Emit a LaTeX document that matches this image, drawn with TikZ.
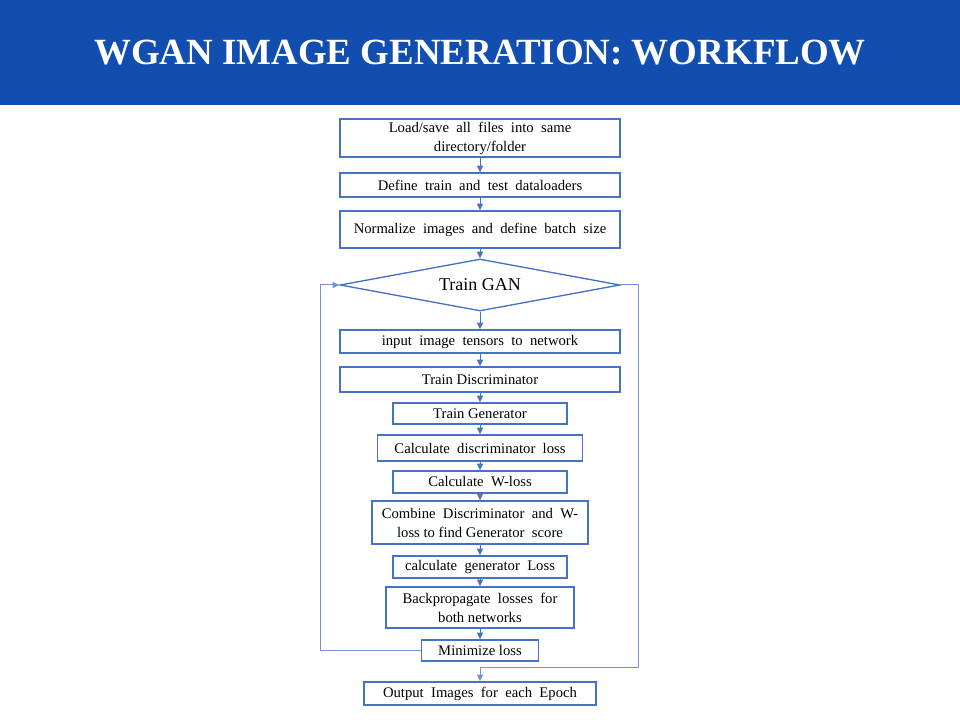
\documentclass[tikz,border=0pt]{standalone}
\usepackage{fontspec}
\setmainfont{Liberation Serif}
\usetikzlibrary{positioning,arrows.meta,shapes.geometric}
\definecolor{titlebar}{RGB}{18,78,176}
\definecolor{flowline}{RGB}{68,114,196}
\tikzset{
  >={Triangle[length=5pt,width=4.5pt]},
  flowbox/.style ={draw=flowline, line width=1pt, inner sep=0pt, align=center, font=\fontsize{11}{14.25}\selectfont},
  decision/.style={diamond, draw=flowline, line width=1pt, inner sep=0pt, shape aspect=5, font=\fontsize{13.5}{16}\selectfont},
  link/.style    ={flowline, line width=0.75pt, ->},
  backlink/.style={flowline!75, line width=0.75pt, ->},
}

\begin{document}
\begin{tikzpicture}[x=0.75pt, y=-0.75pt]
  \useasboundingbox (0,0) rectangle (960,720);

  % ---------- Title bar ----------
  \fill[titlebar] (0,0) rectangle (960,105);
  \node[anchor=base, text=white, font=\bfseries\fontsize{27.7}{30}\selectfont] (title) at (480,65)
    {WGAN IMAGE GENERATION: WORKFLOW};

  % ---------- Preparation ----------
  \node[flowbox, minimum width=210pt, minimum height=28.5pt] (load) at (480,138)
    {Load/save\ \ all\ \ files\ \ into\ \ same\\directory/folder};
  \node[flowbox, minimum width=210pt, minimum height=18pt] (loaders) at (480,185)
    {Define\ \ train\ \ and\ \ test\ \ dataloaders};
  \node[flowbox, minimum width=210pt, minimum height=27.75pt] (norm) at (480,229.5)
    {Normalize\ \ images\ \ and\ \ define\ \ batch\ \ size};

  % ---------- Training loop ----------
  \node[decision, minimum width=210pt, minimum height=39pt] (gan) at (480,285) {Train GAN};
  \node[flowbox, minimum width=210pt, minimum height=17.25pt] (input) at (480,341.5)
    {input\ \ image\ \ tensors\ \ to\ \ network};
  \node[flowbox, minimum width=210pt, minimum height=18.75pt] (disc) at (480,379.5)
    {Train Discriminator};
  \node[flowbox, minimum width=130.5pt, minimum height=15.75pt] (gen) at (480,413.5)
    {Train Generator};
  \node[flowbox, minimum width=153.75pt, minimum height=19.5pt] (dloss) at (480,448)
    {Calculate\ \ discriminator\ \ loss};
  \node[flowbox, minimum width=130.5pt, minimum height=16.5pt] (wloss) at (480,482)
    {Calculate\ \ W-loss};
  \node[flowbox, minimum width=162pt, minimum height=32.25pt] (score) at (480,522.5)
    {Combine\ \ Discriminator\ \ and\ \ W-\\loss\ to find Generator\ \ score};
  \node[flowbox, minimum width=130.5pt, minimum height=16.5pt] (gloss) at (480,567)
    {calculate\ \ generator\ \ Loss};
  \node[flowbox, minimum width=141pt, minimum height=30.75pt] (backprop) at (480,607.5)
    {Backpropagate\ \ losses\ \ for\\both networks};
  \node[flowbox, minimum width=87.75pt, minimum height=15.75pt] (minl) at (480,650.5)
    {Minimize loss};

  % ---------- Output ----------
  \node[flowbox, minimum width=174pt, minimum height=17.25pt] (out) at (480,693.5)
    {Output\ \ Images\ \ for\ \ each\ \ Epoch};

  % straight arrows down the column
  \foreach \a/\b in {load/loaders, loaders/norm, norm/gan, gan/input, input/disc, disc/gen,
                     gen/dloss, dloss/wloss, wloss/score, score/gloss, gloss/backprop, backprop/minl}
    \draw[link] (\a.south) -- (\b.north);

  % loop back to the decision, and exit to the output
  \coordinate (lft) at (320,285);
  \coordinate (rgt) at (638,667);
  \draw[backlink] (minl.west) -| (lft) -- (gan.west);
  \draw[backlink] (gan.east) -| (rgt) -| (out.north);
\end{tikzpicture}
\end{document}
